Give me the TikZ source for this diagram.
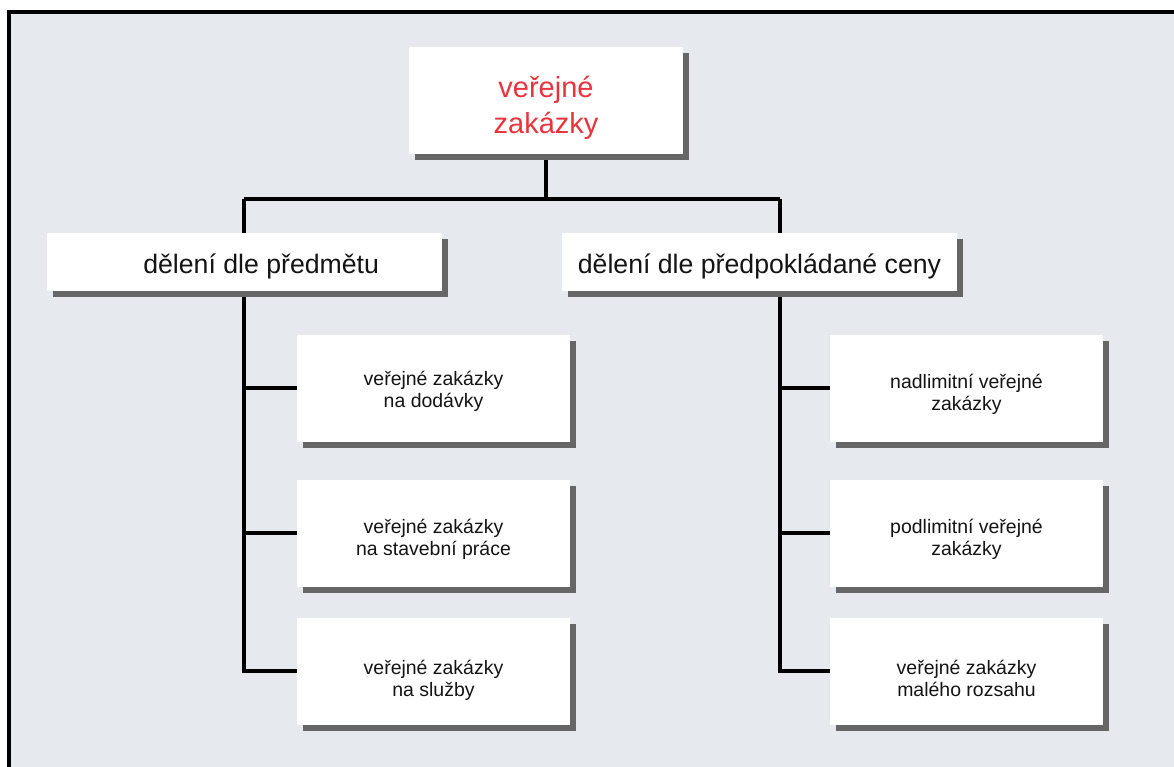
\documentclass[tikz,border=0pt]{standalone}
\usepackage{fontspec}
\setmainfont{Liberation Sans}
\usepackage{tikz}
\usetikzlibrary{calc, backgrounds, shadows}

\definecolor{panelgray}{RGB}{230,233,238}
\definecolor{shadowgray}{RGB}{102,102,102}
\definecolor{titlered}{RGB}{232,52,60}
\definecolor{textgray}{RGB}{20,20,20}

\tikzset{
  box/.style={fill=white, inner sep=0pt, align=center, text=textgray, text depth=0pt,
    drop shadow={shadow xshift=4.5pt, shadow yshift=-4.5pt, fill=shadowgray, opacity=1}},
  topbox/.style={box, minimum width=205.5pt, minimum height=80pt, text=titlered,
    text height=48.75pt, font=\fontsize{21.75pt}{26.5pt}\selectfont},
  midbox/.style={box, minimum width=296pt, minimum height=43.5pt,
    text height=16.5pt, font=\fontsize{20pt}{24pt}\selectfont},
  leafbox/.style={box, minimum width=205pt, minimum height=80.25pt,
    text height=33pt, font=\fontsize{14.6pt}{16.5pt}\selectfont},
  link/.style={line width=2.6pt, black},
}

\begin{document}
\begin{tikzpicture}[x=0.75pt, y=-0.75pt]
        \useasboundingbox (0,0) rectangle (1174,767);
        \pgfmathsetmacro{\lx}{433.5}
        \pgfmathsetmacro{\rx}{966.5}
        \coordinate (lspine) at (244,199);
        \coordinate (rspine) at (780,199);
        \node (top) at (546,100.5) [topbox] {veřejné\\zakázky};
        \node (subj) at (244.5,262) [midbox] {\kern25pt dělení dle předmětu};
        \node (price) at (759.5,262) [midbox] {dělení dle předpokládané ceny};
        \node (sa) at (\lx,388) [leafbox, text height=28.5pt] {veřejné zakázky\\na dodávky};
        \node (sb) at (\lx,533) [leafbox] {veřejné zakázky\\na stavební práce};
        \node (sc) at (\lx,671) [leafbox, text height=38pt] {veřejné zakázky\\na služby};
        \node (pa) at (\rx,388) [leafbox] {nadlimitní veřejné\\zakázky};
        \node (pb) at (\rx,533) [leafbox] {podlimitní veřejné\\zakázky};
        \node (pc) at (\rx,671) [leafbox, text height=38pt] {veřejné zakázky\\malého rozsahu};
        \begin{scope}[on background layer]
          \fill[panelgray] (9,12) rectangle (1174,767);
          \draw[line width=3pt] (9,767) -- (9,12) -- (1174,12);
          \draw[link] (top) -- (top |- lspine);
          \draw[link] (lspine) -- (rspine);
          \draw[link] (lspine) |- (sc.west);
          \draw[link] (lspine |- sa.west) -- (sa.west);
          \draw[link] (lspine |- sb.west) -- (sb.west);
          \draw[link] (rspine) |- (pc.west);
          \draw[link] (rspine |- pa.west) -- (pa.west);
          \draw[link] (rspine |- pb.west) -- (pb.west);
        \end{scope}
    \end{tikzpicture}
\end{document}
